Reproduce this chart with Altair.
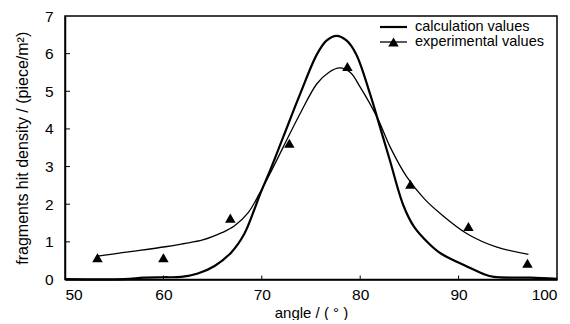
import altair as alt
import pandas as pd

# calculated curve
calc_x = [50, 56, 58, 60, 61.8, 63.5, 65.2, 66.9, 68.2, 69.3, 69.8, 71, 72.2, 73.9, 75.6, 76.6,
          77.6, 78.6, 79.6, 81.0, 82.0, 83.0, 84.4, 85.5, 87, 88.2, 90.9, 92.5, 93.6, 97.3, 100]
calc_y = [0.01, 0.01, 0.05, 0.06, 0.07, 0.16, 0.36, 0.72, 1.2, 1.9, 2.25, 3.0, 3.8, 4.93, 5.98, 6.35,
          6.47, 6.35, 5.98, 4.93, 4.06, 3.18, 1.96, 1.39, 0.95, 0.69, 0.34, 0.15, 0.07, 0.05, 0.02]

# experimental fitted curve
fit_x = [53.3, 56, 60.2, 62, 64, 66, 67.2, 68.6, 69.8, 71, 72.2, 73.9, 75.6, 76.8, 77.9, 79,
         80.0, 81.7, 83.1, 84.7, 86.5, 88.2, 90.9, 93.9, 97.1]
fit_y = [0.62, 0.72, 0.87, 0.95, 1.05, 1.25, 1.42, 1.77, 2.3, 2.9, 3.53, 4.41, 5.2, 5.5, 5.62, 5.5,
         5.11, 4.32, 3.49, 2.74, 2.15, 1.74, 1.21, 0.86, 0.67]

# experimental points
exp_x = [53.3, 60, 66.8, 72.8, 78.7, 85.1, 91, 97]
exp_y = [0.58, 0.58, 1.63, 3.62, 5.66, 2.53, 1.41, 0.43]

x_ticks = [50, 60, 70, 80, 90, 100]
y_ticks = [0, 1, 2, 3, 4, 5, 6, 7]
legend_labels = ["calculation values", "experimental values"]

W, H = 492, 263.5
FONT = "Liberation Sans, Arial, sans-serif"

xs = alt.Scale(domain=[50, 100], nice=False, zero=False)
ys = alt.Scale(domain=[0, 7], nice=False)
X = alt.X("angle:Q", scale=xs,
          axis=alt.Axis(values=x_ticks, title="angle / ( ° )", labelPadding=8, titlePadding=2))
Y = alt.Y("density:Q", scale=ys,
          axis=alt.Axis(values=y_ticks, title="fragments hit density / (piece/m²)",
                        labelPadding=12, titlePadding=14, titleFontSize=16))

calc = alt.Chart(pd.DataFrame({"angle": calc_x, "density": calc_y})).mark_line(
    interpolate="catmull-rom", color="black", strokeWidth=2.2).encode(x=X, y=Y)
fit = alt.Chart(pd.DataFrame({"angle": fit_x, "density": fit_y})).mark_line(
    interpolate="catmull-rom", color="black", strokeWidth=1.3).encode(x=X, y=Y)
pts = alt.Chart(pd.DataFrame({"angle": exp_x, "density": exp_y})).mark_point(
    shape="triangle-up", filled=True, size=110, color="black", opacity=1).encode(x=X, y=Y)

ytk = alt.Chart(pd.DataFrame({"density": y_ticks[1:-1]})).mark_rule(
    color="black", strokeWidth=1).encode(y=Y, x=alt.value(0), x2=alt.value(5))
xtk = alt.Chart(pd.DataFrame({"angle": x_ticks[1:-1]})).mark_rule(
    color="black", strokeWidth=1).encode(x=X, y=alt.value(H), y2=alt.value(H - 4))

one = pd.DataFrame({"k": [0]})
leg_line1 = alt.Chart(one).mark_rule(color="black", strokeWidth=2.2).encode(
    x=alt.value(315), x2=alt.value(342), y=alt.value(11))
leg_line2 = alt.Chart(one).mark_rule(color="black", strokeWidth=1.3).encode(
    x=alt.value(315), x2=alt.value(342), y=alt.value(26))
leg_pt = alt.Chart(one).mark_point(shape="triangle-up", filled=True, size=110, color="black",
                                   opacity=1).encode(x=alt.value(328.5), y=alt.value(26))
leg_t1 = alt.Chart(one).mark_text(text=legend_labels[0], align="left", baseline="middle",
                                  font=FONT, fontSize=14.5, color="black").encode(
    x=alt.value(350), y=alt.value(11))
leg_t2 = alt.Chart(one).mark_text(text=legend_labels[1], align="left", baseline="middle",
                                  font=FONT, fontSize=14.5, color="black").encode(
    x=alt.value(350), y=alt.value(26))

chart = alt.layer(calc, fit, pts, ytk, xtk, leg_line1, leg_line2, leg_pt, leg_t1, leg_t2).properties(
    width=W, height=H,
    autosize=alt.AutoSizeParams(type="none"),
    padding={"left": 57, "top": 8, "right": 5, "bottom": 40},
).configure_view(stroke="black", strokeWidth=1.5).configure_axis(
    grid=False, tickSize=0, domainColor="black", domainWidth=1.5,
    labelFont=FONT, labelFontSize=15.5, labelColor="black",
    titleFont=FONT, titleFontSize=15, titleFontWeight="normal", titleColor="black",
)

chart.save("out.html", embed_options={"renderer": "svg", "actions": False})
